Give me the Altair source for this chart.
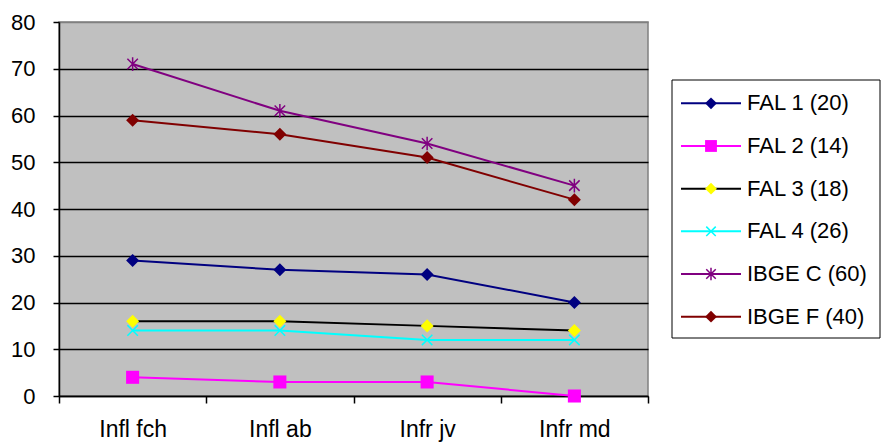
import altair as alt
import pandas as pd

# Categories along the x axis and one value list per series
categories = ["Infl fch", "Infl ab", "Infr jv", "Infr md"]
series_names = ["FAL 1 (20)", "FAL 2 (14)", "FAL 3 (18)", "FAL 4 (26)", "IBGE C (60)", "IBGE F (40)"]
fal1 = [29, 27, 26, 20]
fal2 = [4, 3, 3, 0]
fal3 = [16, 16, 15, 14]
fal4 = [14, 14, 12, 12]
ibge_c = [71, 61, 54, 45]
ibge_f = [59, 56, 51, 42]
y_ticks = [0, 10, 20, 30, 40, 50, 60, 70, 80]

# Styling per series
line_colors = ["#000080", "#FF00FF", "#000000", "#00FFFF", "#800080", "#800000"]
marker_colors = ["#000080", "#FF00FF", "#FFFF00", "#00FFFF", "#800080", "#800000"]
CROSS = "M-1,-1L1,1M-1,1L1,-1"
STAR = "M-1,-1L1,1M-1,1L1,-1M0,-1.3L0,1.3"
marker_shapes = ["diamond", "square", "diamond", CROSS, STAR, "diamond"]
filled_series = ["FAL 1 (20)", "FAL 2 (14)", "FAL 3 (18)", "IBGE F (40)"]
stroked_series = ["FAL 4 (26)", "IBGE C (60)"]

FONT = "Arial, Liberation Sans"

rows = []
for name, vals in zip(series_names, [fal1, fal2, fal3, fal4, ibge_c, ibge_f]):
    for i, (cat, v) in enumerate(zip(categories, vals)):
        rows.append({"series": name, "category": cat, "idx": i, "value": v})
df = pd.DataFrame(rows)
legend_df = pd.DataFrame({"series": series_names})

stroke_enc = alt.Stroke("series:N", scale=alt.Scale(domain=series_names, range=line_colors), legend=None)
color_enc = alt.Color("series:N", scale=alt.Scale(domain=series_names, range=marker_colors), legend=None)
shape_enc = alt.Shape("series:N", scale=alt.Scale(domain=series_names, range=marker_shapes), legend=None)

x_enc = alt.X(
    "category:N",
    sort=categories,
    scale=alt.Scale(type="band", paddingInner=0, paddingOuter=0),
    axis=alt.Axis(
        title=None, labelAngle=0, tickBand="extent", tickSize=7, labelPadding=15,
        labelFontSize=23, labelFont=FONT, labelColor="black",
        domainColor="black", tickColor="black", domainWidth=1.5, tickWidth=1.5, grid=False,
    ),
)
y_enc = alt.Y(
    "value:Q",
    scale=alt.Scale(domain=[0, 80], nice=False),
    axis=alt.Axis(
        title=None, values=y_ticks, tickSize=6, labelPadding=18,
        labelFontSize=22, labelFont=FONT, labelColor="black",
        domainColor="black", tickColor="black", domainWidth=1.5, tickWidth=1.5,
        gridColor={"condition": {"test": "datum.value === 80", "value": "#808080"}, "value": "black"},
        gridWidth=1.6,
    ),
)

base = alt.Chart(df)
lines = base.mark_line(strokeWidth=2).encode(
    x=x_enc, y=y_enc, stroke=stroke_enc, order=alt.Order("idx:Q")
)
pts_filled = base.transform_filter(
    alt.FieldOneOfPredicate(field="series", oneOf=filled_series)
).mark_point(filled=True, size=170, opacity=1).encode(
    x=x_enc, y=y_enc, color=color_enc, shape=shape_enc
)
pts_stroked = base.transform_filter(
    alt.FieldOneOfPredicate(field="series", oneOf=stroked_series)
).mark_point(filled=False, size=110, opacity=1, strokeWidth=1.5).encode(
    x=x_enc, y=y_enc, color=color_enc, shape=shape_enc
)
main = alt.layer(lines, pts_filled, pts_stroked)

# Legend box with line-and-marker keys
ly = alt.Y("series:N", sort=series_names,
           scale=alt.Scale(type="point", range=[81.3, 294.7], padding=0), axis=None)
box = alt.Chart(pd.DataFrame({"box": [0]})).mark_rect(
    fill="white", stroke="black", strokeWidth=1
).encode(x=alt.value(613), x2=alt.value(821), y=alt.value(58), y2=alt.value(316))
lbase = alt.Chart(legend_df)
lrules = lbase.mark_rule(strokeWidth=2).encode(
    x=alt.value(622), x2=alt.value(682), y=ly, stroke=stroke_enc
)
lpts_filled = lbase.transform_filter(
    alt.FieldOneOfPredicate(field="series", oneOf=filled_series)
).mark_point(filled=True, size=140, opacity=1).encode(
    x=alt.value(652), y=ly, color=color_enc, shape=shape_enc
)
lpts_stroked = lbase.transform_filter(
    alt.FieldOneOfPredicate(field="series", oneOf=stroked_series)
).mark_point(filled=False, size=90, opacity=1, strokeWidth=1.5).encode(
    x=alt.value(652), y=ly, color=color_enc, shape=shape_enc
)
ltext = lbase.mark_text(
    align="left", baseline="middle", fontSize=22, font=FONT, color="black"
).encode(x=alt.value(688), y=ly, text="series:N")
legend = alt.layer(box, lrules, lpts_filled, lpts_stroked, ltext)

chart = alt.layer(main, legend).resolve_scale(y="independent").properties(
    width=589,
    height=374,
    autosize=alt.AutoSizeParams(type="none"),
    padding={"left": 59, "top": 22, "right": 233, "bottom": 51},
    background="white",
).configure_view(fill="#C0C0C0", stroke="#808080", strokeWidth=1.5)

chart.save("out.html", embed_options={"renderer": "svg", "actions": False})
